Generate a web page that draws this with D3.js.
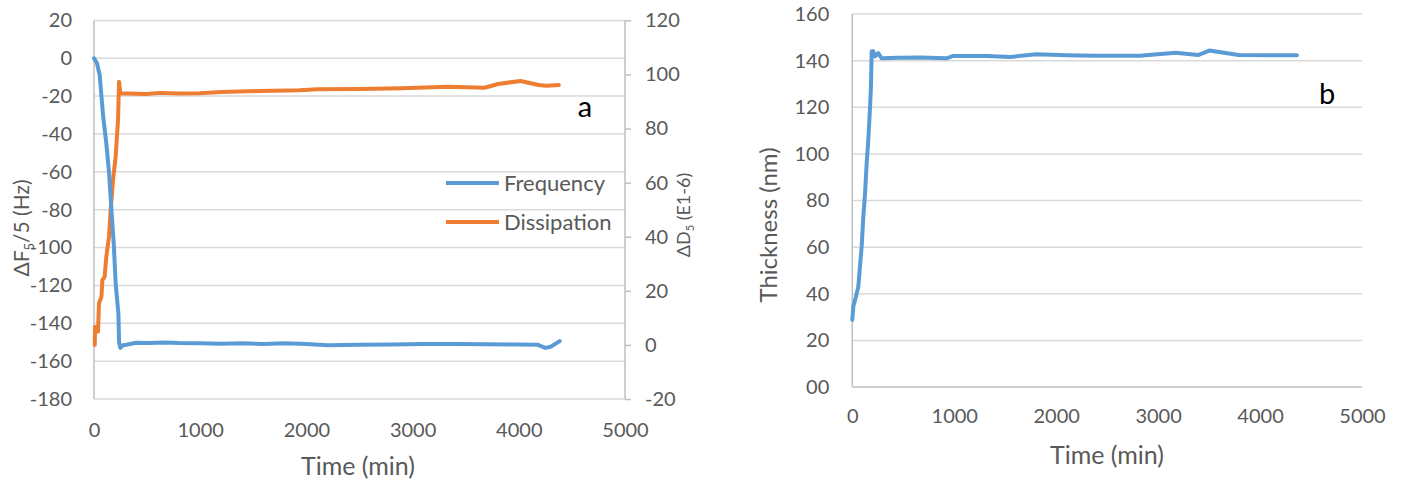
<!DOCTYPE html>
<html>
<head>
<meta charset="utf-8">
<script src="https://cdn.jsdelivr.net/npm/d3@7"></script>
<style>
  body { margin: 0; background: #fff; }
  svg text { font-family: Lato, "Open Sans", sans-serif; }
</style>
</head>
<body>
<div id="chart"></div>
<script>
// time (min) / frequency (Hz) for chart a
var freqTime = [0, 28, 54, 70, 85, 116, 141, 164, 186, 204, 230, 236, 248, 273, 305, 399, 520, 670, 800, 1000, 1200, 1400, 1600, 1800, 2000, 2200, 2500, 2800, 3100, 3400, 3700, 4000, 4180, 4250, 4300, 4385];
var freqVals = [0, -2.6, -9, -20, -30, -45, -60, -80, -98, -119, -135, -150, -153, -151.6, -151.3, -150.3, -150.4, -150.1, -150.4, -150.6, -150.8, -150.5, -151, -150.6, -151, -151.6, -151.3, -151.2, -151, -150.9, -151.1, -151.2, -151.4, -153, -152.4, -149.4];
// time (min) / dissipation (E1-6)
var dissTime = [7, 10, 38, 47, 70, 79, 100, 116, 141, 157, 179, 204, 226, 236, 248, 305, 493, 618, 800, 995, 1200, 1560, 1937, 2100, 2500, 2900, 3340, 3678, 3805, 4017, 4186, 4260, 4377];
var dissVals = [0, 6.7, 4.9, 15.4, 17.8, 24, 25.2, 32.6, 40, 49.9, 61, 69.6, 83, 97.3, 93, 93, 92.8, 93.2, 93, 93.1, 93.5, 93.9, 94.2, 94.5, 94.6, 94.9, 95.5, 95.1, 96.5, 97.6, 96.1, 95.8, 96.1];
// time (min) / thickness (nm) for chart b
var thickTime = [0, 10, 36, 59, 75, 92, 108, 125, 141, 157, 174, 183, 190, 206, 223, 255, 288, 450, 664, 926, 990, 1322, 1550, 1806, 2100, 2379, 2819, 3172, 3392, 3502, 3789, 4100, 4361];
var thickVals = [28.8, 34.5, 38.8, 43, 51.6, 60.2, 73, 83, 96, 106, 120, 129, 144, 144, 141.8, 143.2, 141, 141.2, 141.3, 141, 142, 142, 141.6, 142.7, 142.3, 142.1, 142.1, 143.4, 142.4, 144.3, 142.4, 142.3, 142.3];

var timeTicks = [0, 1000, 2000, 3000, 4000, 5000];
var freqTicks = [20, 0, -20, -40, -60, -80, -100, -120, -140, -160, -180];
var dissTicks = [120, 100, 80, 60, 40, 20, 0, -20];
var thickTicks = [0, 20, 40, 60, 80, 100, 120, 140, 160];
var thickTickLabels = ["00", "20", "40", "60", "80", "100", "120", "140", "160"];
var legendNames = ["Frequency", "Dissipation"];

var blue = "#5b9bd5", orange = "#ed7d31";
var gridColor = "#d9d9d9", axisColor = "#bfbfbf", textColor = "#595959";

var svg = d3.select("#chart").append("svg")
  .attr("width", 1402).attr("height", 481);

function pts(t, v) { return t.map(function(d, i) { return [d, v[i]]; }); }
function plain(d) { return String(d); }   // keep "-" hyphen like the source

function styleAxis(g) {
  g.select(".domain").remove();
  g.selectAll("text").attr("fill", textColor).style("font-size", "20px");
}

// ---------- chart a ----------
var xa = d3.scaleLinear().domain([0, 5000]).range([94, 625]);
var ya = d3.scaleLinear().domain([-180, 20]).range([399, 20.4]);
var ya2 = d3.scaleLinear().domain([-20, 120]).range([399, 20.4]);

var a = svg.append("g");
a.append("g").selectAll("line").data(freqTicks).enter().append("line")
  .attr("x1", xa(0)).attr("x2", xa(5000))
  .attr("y1", function(d) { return ya(d); }).attr("y2", function(d) { return ya(d); })
  .attr("stroke", gridColor).attr("stroke-width", 1.5);
a.append("line").attr("x1", xa(0)).attr("x2", xa(0)).attr("y1", ya(20)).attr("y2", ya(-180))
  .attr("stroke", axisColor).attr("stroke-width", 1.5);
a.append("line").attr("x1", xa(5000)).attr("x2", xa(5000)).attr("y1", ya(20)).attr("y2", ya(-180))
  .attr("stroke", axisColor).attr("stroke-width", 1.5);

a.append("g").attr("transform", "translate(" + (xa(0) - 19) + ",0)")
  .call(d3.axisLeft(ya).tickValues(freqTicks).tickSize(0).tickFormat(plain))
  .call(styleAxis);
a.append("g").attr("transform", "translate(" + xa(5000) + ",0)")
  .call(d3.axisRight(ya2).tickValues(dissTicks).tickSize(6).tickPadding(14).tickFormat(plain))
  .call(styleAxis)
  .call(function(g) { g.selectAll("line").attr("stroke", axisColor).attr("stroke-width", 1.5); });
a.append("g").attr("transform", "translate(0," + (ya(-180) + 21) + ")")
  .call(d3.axisBottom(xa).tickValues(timeTicks).tickSize(0).tickFormat(plain))
  .call(styleAxis);

var lineA = d3.line().x(function(d) { return xa(d[0]); }).y(function(d) { return ya(d[1]); });
var lineA2 = d3.line().x(function(d) { return xa(d[0]); }).y(function(d) { return ya2(d[1]); });
a.append("path").attr("d", lineA2(pts(dissTime, dissVals))).attr("fill", "none")
  .attr("stroke", orange).attr("stroke-width", 4).attr("stroke-linejoin", "round").attr("stroke-linecap", "round");
a.append("path").attr("d", lineA(pts(freqTime, freqVals))).attr("fill", "none")
  .attr("stroke", blue).attr("stroke-width", 4).attr("stroke-linejoin", "round").attr("stroke-linecap", "round");

// legend
var leg = a.append("g").selectAll("g").data(legendNames).enter().append("g")
  .attr("transform", function(d, i) { return "translate(446," + (183 + i * 39) + ")"; });
leg.append("line").attr("x1", 0).attr("x2", 53).attr("stroke-width", 4)
  .attr("stroke", function(d, i) { return i ? orange : blue; });
leg.append("text").attr("x", 58).attr("dy", "0.36em").attr("fill", textColor)
  .style("font-size", "22px").text(function(d) { return d; });

a.append("text").attr("x", 585).attr("y", 117).attr("text-anchor", "middle")
  .style("font-size", "29px").attr("fill", "#000").text("a");

a.append("text").attr("x", 358).attr("y", 475).attr("text-anchor", "middle")
  .attr("fill", textColor).style("font-size", "25px").text("Time (min)");

var tl = a.append("text").attr("transform", "translate(29,228) rotate(-90)")
  .attr("text-anchor", "middle").attr("fill", textColor).style("font-size", "21px");
tl.append("tspan").text("ΔF");
tl.append("tspan").attr("dy", 5).style("font-size", "13px").text("5");
tl.append("tspan").attr("dy", -5).text("/5 (Hz)");

var tr = a.append("text").attr("transform", "translate(690,215) rotate(-90)")
  .attr("text-anchor", "middle").attr("fill", textColor).style("font-size", "18px");
tr.append("tspan").text("ΔD");
tr.append("tspan").attr("dy", 4).style("font-size", "11px").text("5");
tr.append("tspan").attr("dy", -4).text(" (E1-6)");

// ---------- chart b ----------
var xb = d3.scaleLinear().domain([0, 5000]).range([852.3, 1362]);
var yb = d3.scaleLinear().domain([0, 160]).range([387, 14]);

var b = svg.append("g");
b.append("g").selectAll("line").data(thickTicks).enter().append("line")
  .attr("x1", xb(0)).attr("x2", xb(5000))
  .attr("y1", function(d) { return yb(d); }).attr("y2", function(d) { return yb(d); })
  .attr("stroke", function(d) { return d === 0 ? axisColor : gridColor; }).attr("stroke-width", 1.5);
b.append("line").attr("x1", xb(0)).attr("x2", xb(0)).attr("y1", yb(160)).attr("y2", yb(0))
  .attr("stroke", axisColor).attr("stroke-width", 1.5);

b.append("g").attr("transform", "translate(" + (xb(0) - 20) + ",0)")
  .call(d3.axisLeft(yb).tickValues(thickTicks).tickSize(0)
    .tickFormat(function(d, i) { return thickTickLabels[i]; }))
  .call(styleAxis);
b.append("g").attr("transform", "translate(0," + (yb(0) + 19) + ")")
  .call(d3.axisBottom(xb).tickValues(timeTicks).tickSize(0).tickFormat(plain))
  .call(styleAxis);

var lineB = d3.line().x(function(d) { return xb(d[0]); }).y(function(d) { return yb(d[1]); });
b.append("path").attr("d", lineB(pts(thickTime, thickVals))).attr("fill", "none")
  .attr("stroke", blue).attr("stroke-width", 4).attr("stroke-linejoin", "round").attr("stroke-linecap", "round");

b.append("text").attr("x", 1327).attr("y", 104).attr("text-anchor", "middle")
  .style("font-size", "29px").attr("fill", "#000").text("b");

b.append("text").attr("x", 1107).attr("y", 464).attr("text-anchor", "middle")
  .attr("fill", textColor).style("font-size", "25px").text("Time (min)");
b.append("text").attr("transform", "translate(777,225) rotate(-90)")
  .attr("text-anchor", "middle").attr("fill", textColor).style("font-size", "24px").text("Thickness (nm)");
</script>
</body>
</html>
